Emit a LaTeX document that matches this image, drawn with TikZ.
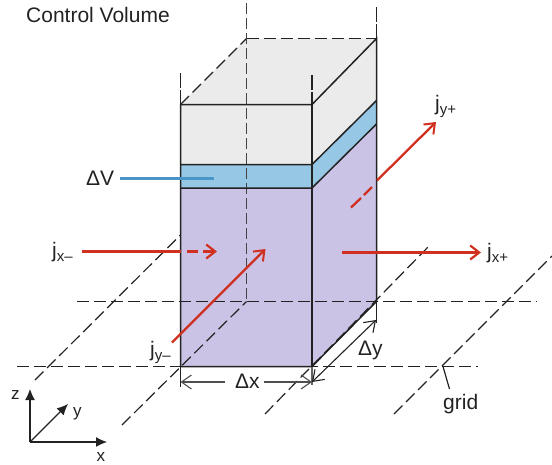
\documentclass[tikz,border=0pt]{standalone}
\usepackage{fontspec}
\setmainfont{Liberation Sans}
\usetikzlibrary{arrows.meta}
\definecolor{cvgrey}{HTML}{EBEBEB}
\definecolor{cvblue}{HTML}{96C8E6}
\definecolor{cvpurple}{HTML}{CBC3E6}
\definecolor{cvred}{HTML}{CF3020}
\definecolor{cvline}{HTML}{4A96C8}
\definecolor{ink}{HTML}{222222}
\tikzset{
  x=1pt,y=-1pt,
  griddash/.style={draw=ink,line width=1.2pt,dash pattern=on 12pt off 5pt},
  shortdash/.style={draw=ink,line width=1.3pt,dash pattern=on 14.5pt off 2.5pt},
  backdash/.style={draw=ink!85,line width=1.4pt,dash pattern=on 11pt off 4pt},
  edge/.style={draw=ink,line width=1.5pt},
  flow/.style={draw=cvred,line width=2.6pt,-{Straight Barb[length=9pt,width=14pt,line width=2.2pt]}},
  flowthin/.style={draw=cvred,line width=2.3pt,-{Straight Barb[length=9pt,width=14pt,line width=2pt]}},
  flowplain/.style={draw=cvred,line width=2.6pt},
  dim/.style={draw=ink,line width=1.1pt,{Straight Barb[length=10pt,width=14pt]}-{Straight Barb[length=10pt,width=14pt]}},
  axis/.style={draw=ink,line width=1.2pt,-{Latex[length=11pt,width=10pt]}},
  lab/.style={font=\fontsize{21}{21}\selectfont,text=ink,inner sep=0pt,anchor=base west},
  axlab/.style={font=\fontsize{17}{17}\selectfont,text=ink,inner sep=0pt,anchor=base west}
}
\newcommand{\subs}[1]{\raisebox{-4.5pt}{\fontsize{15}{15}\selectfont #1}}
\begin{document}
\begin{tikzpicture}
\useasboundingbox (0,0) rectangle (552,464);
% box corners
\coordinate (ftl) at (180.5,104.5);
\coordinate (ftr) at (312,104.5);
\coordinate (btl) at (246.5,38.5);
\coordinate (btr) at (376.5,38.5);
\coordinate (fbl) at (180.5,366.5);
\coordinate (fbr) at (312,366.5);
\coordinate (bbl) at (246.5,301.5);
\coordinate (bbr) at (376.5,301.5);
\coordinate (u1l) at (180.5,164.5);
\coordinate (u1r) at (312,164.5);
\coordinate (u1b) at (376.5,100.5);
\coordinate (u2l) at (180.5,188);
\coordinate (u2r) at (312,188);
\coordinate (u2b) at (376.5,124);
% fills
\fill[cvgrey] (ftl) -- (btl) -- (btr) -- (u1b) -- (u1r) -- (u1l) -- cycle;
\fill[cvblue] (u1l) -- (u1r) -- (u1b) -- (u2b) -- (u2r) -- (u2l) -- cycle;
\fill[cvpurple] (u2l) -- (u2r) -- (u2b) -- (bbr) -- (fbr) -- (fbl) -- cycle;
% grid
\coordinate (g1a) at (17,366.5);   \coordinate (g1b) at (478,366.5);
\coordinate (g2a) at (77,301.5);   \coordinate (g2b) at (537,301.5);
\coordinate (g3a) at (35,380);     \coordinate (g3b) at (180.5,235);
\coordinate (g4a) at (122,425);
\coordinate (g5a) at (265,414);    \coordinate (g5b) at (430,245);
\coordinate (g6a) at (394,414);    \coordinate (g6b) at (552,256);
\draw[griddash] (g1a) -- (g1b);
\draw[griddash] (g2a) -- (g2b);
\draw[griddash] (g3a) -- (g3b);
\draw[griddash] (g4a) -- (bbl);
\draw[griddash] (g5a) -- (g5b);
\draw[griddash] (g6a) -- (g6b);
% dashed box edges
\coordinate (v1) at (246.5,3);
\coordinate (v2) at (180.5,73);
\coordinate (v3) at (312,75);
\coordinate (v4) at (376.5,7);
\draw[griddash] (ftl) -- (btl);
\draw[griddash] (btl) -- (btr);
\draw[backdash] (v1) -- (bbl);
\draw[shortdash] (v2) -- (ftl);
\draw[shortdash] (v3) -- (ftr);
\draw[shortdash] (v4) -- (btr);
% solid edges
\draw[edge] (ftl) -- (ftr) -- (btr) -- (bbr) -- (fbr) -- (fbl) -- cycle;
\draw[edge] (ftr) -- (fbr);
\draw[edge] (u1l) -- (u1r) -- (u1b);
\draw[edge] (u2l) -- (u2r) -- (u2b);
% extension lines
\coordinate (e1) at (180.5,387);
\coordinate (e2) at (312,385);
\coordinate (e3) at (376.5,323);
\draw[draw=ink,line width=1.1pt] (fbl) -- (e1);
\draw[draw=ink!70,line width=1.1pt] (fbr) -- (e2);
\draw[draw=ink,line width=1.1pt] (bbr) -- (e3);
% dimensions
\coordinate (dxa) at (180.5,382);
\coordinate (dxb) at (312,382);
\coordinate (dya) at (312,382);
\coordinate (dyb) at (376,320);
\coordinate (dxc) at (225,382);
\coordinate (dxd) at (264,382);
\node[lab] (dxl) at (235,388.5) {Δx};
\draw[draw=ink!80,line width=1.1pt,{Straight Barb[length=10pt,width=14pt]}-] (dxa) -- (dxc);
\draw[draw=ink!80,line width=1.1pt,-{Straight Barb[length=10pt,width=14pt]}] (dxd) -- (dxb);
\draw[dim] (dya) -- (dyb);
\node[lab] (dyl) at (358,355) {Δy};
% leader to grid
\node[lab] (gridl) at (443,409) {grid};
\coordinate (gp) at (443,366.5);
\coordinate (gq) at (449.5,389);
\draw[draw=ink,line width=1.2pt] (gp) -- (gq);
% flows
\coordinate (xma) at (82,251.5);
\coordinate (xmb) at (180.5,251.5);
\coordinate (xmc) at (187,251.5);
\coordinate (xmd) at (198,251.5);
\coordinate (xme) at (203,251.5);
\coordinate (xmf) at (217,251.5);
\draw[flowplain] (xma) -- (xmb);
\draw[flowplain] (xmc) -- (xmd);
\draw[flow] (xme) -- (xmf);
\coordinate (xpa) at (342,252.5);
\coordinate (xpb) at (481,252.5);
\draw[flow] (xpa) -- (xpb);
\coordinate (yma) at (172,342.5);
\coordinate (ymb) at (265.5,249);
\draw[flowthin] (yma) -- (ymb);
\coordinate (ypa) at (377,180.5);
\coordinate (ypb) at (436,122);
\coordinate (ypc) at (351,207.5);
\coordinate (ypd) at (361,198);
\coordinate (ype) at (364,195);
\coordinate (ypf) at (372,187);
\draw[flowthin] (ypa) -- (ypb);
\draw[flowplain,line width=2.3pt] (ypc) -- (ypd);
\draw[flowplain,line width=2.3pt] (ype) -- (ypf);
% blue leader
\coordinate (bla) at (120,178.5);
\coordinate (blb) at (214,178.5);
\draw[draw=cvline,line width=3pt] (bla) -- (blb);
% axes
\coordinate (o) at (30,442);
\coordinate (az) at (30,389);
\coordinate (ay) at (68,404);
\coordinate (ax) at (107,442);
\draw[axis] (o) -- (az);
\draw[axis] (o) -- (ay);
\draw[axis] (o) -- (ax);
% labels
\node[lab] (title) at (26,22) {Control Volume};
\node[lab] (dv) at (86,185) {ΔV};
\node[lab] (jxm) at (52,257) {j\subs{x–}};
\node[lab] (jxp) at (487,258) {j\subs{x+}};
\node[lab] (jym) at (150,356) {j\subs{y–}};
\node[lab] (jyp) at (435,110) {j\subs{y+}};
\node[axlab] (lz) at (11,399) {z};
\node[axlab] (ly) at (73,416) {y};
\node[axlab] (lx) at (96.5,461) {x};
\end{tikzpicture}
\end{document}
